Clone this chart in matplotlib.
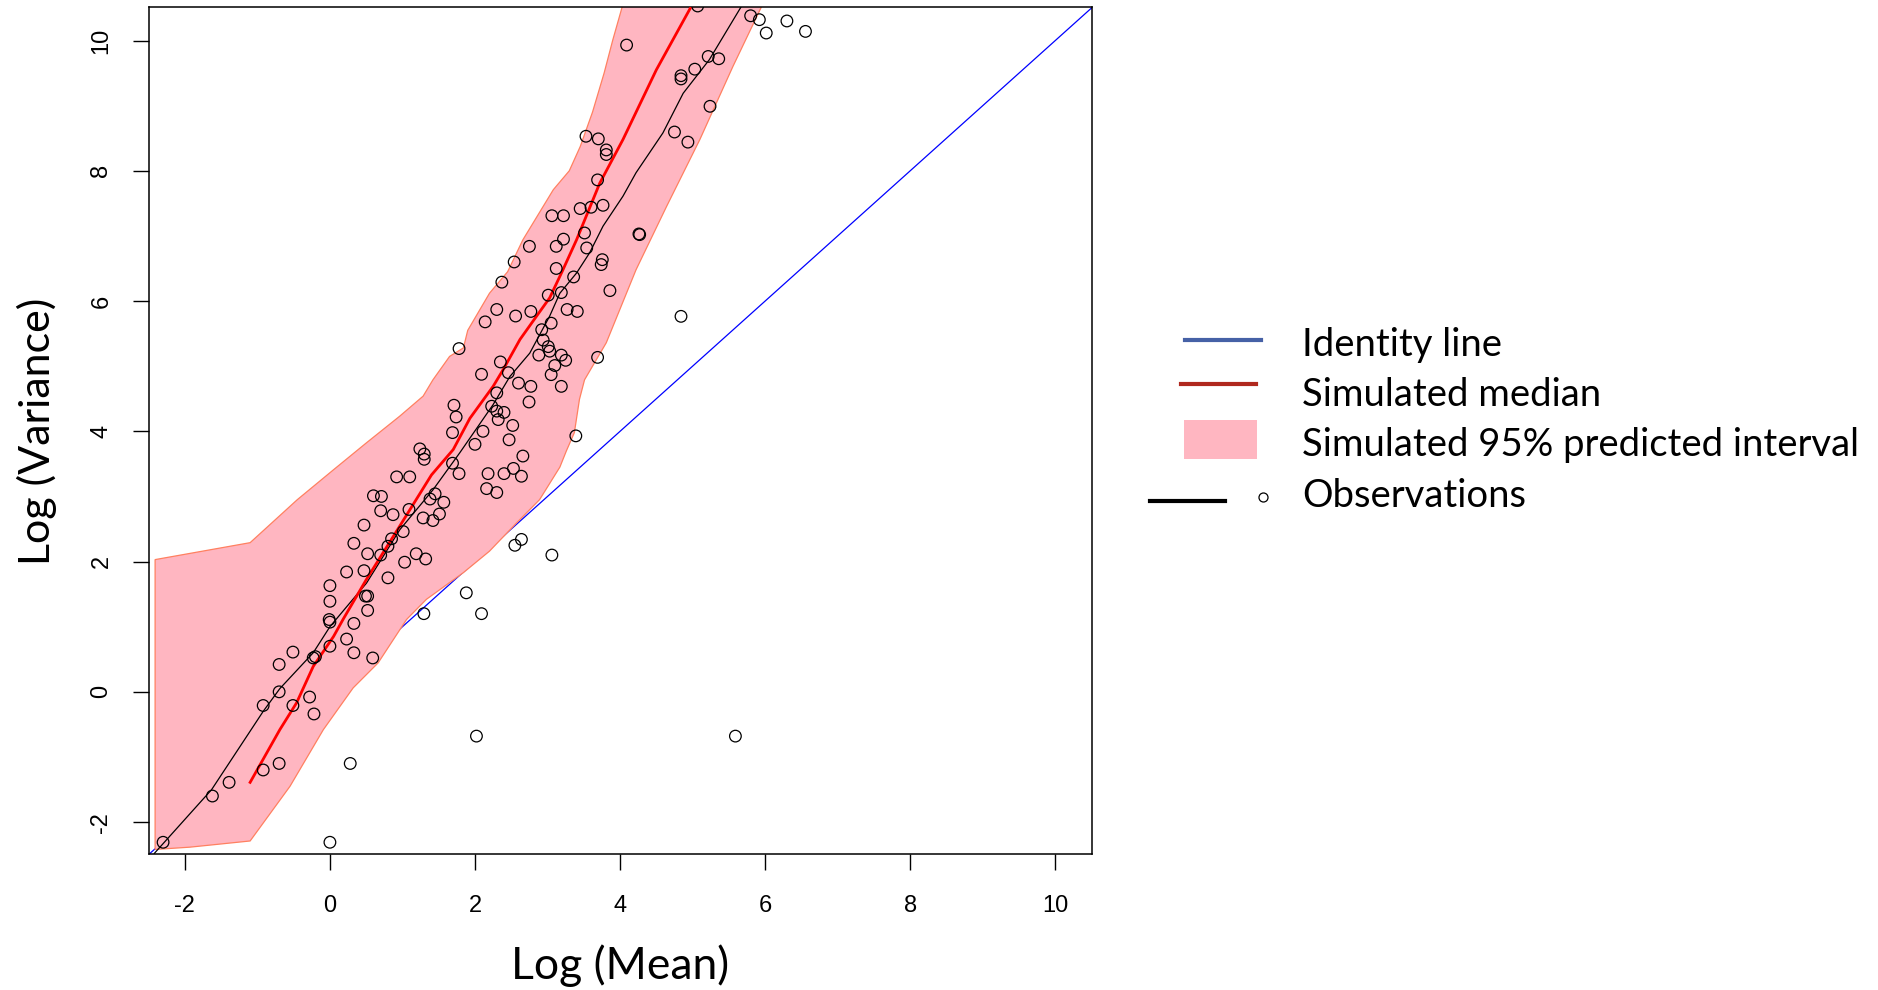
import numpy as np
import matplotlib
matplotlib.use("Agg")
import matplotlib.pyplot as plt
from matplotlib.lines import Line2D
from matplotlib.patches import Rectangle

# observed log(mean) / log(variance) pairs
obs_x = [-2.30, -1.62, -1.39, -0.92, -0.70, 0.00, 0.28, 2.02, -0.92, -0.70,
         -0.70, -0.51, -0.51, -0.28, -0.22, -0.20, -0.23, 0.00, 0.00, -0.01,
         0.00, 0.00, 0.23, 0.33, 0.33, 0.59, 0.23, 0.47, 0.49, 0.52,
         0.52, 0.80, 0.52, 0.33, 0.47, 0.70, 0.80, 0.85, 1.01, 1.03,
         1.19, 1.32, 0.87, 0.70, 0.60, 0.71, 0.92, 1.10, 1.09, 1.285,
         1.42, 1.51, 1.57, 1.38, 1.45, 1.24, 1.30, 1.30, 1.69, 1.78,
         1.69, 2.00, 2.11, 2.18, 2.16, 2.30, 2.40, 2.53, 2.64, 2.66,
         2.47, 2.52, 2.32, 3.39, 2.55, 2.64, 3.06, 1.88, 2.09, 1.295,
         3.53, 3.45, 3.06, 3.22, 3.51, 3.54, 3.22, 3.12, 2.75, 2.54,
         3.12, 2.37, 3.36, 3.19, 3.01, 3.27, 3.41, 2.30, 2.14, 2.56,
         2.77, 3.05, 2.92, 2.94, 3.01, 3.03, 2.88, 3.19, 3.25, 3.10,
         3.05, 3.19, 1.78, 2.35, 2.09, 2.46, 2.60, 2.77, 2.745, 2.30,
         1.71, 1.74, 2.23, 2.30, 2.40,
         5.07, 5.80, 5.92, 6.015, 6.30, 6.556, 4.09, 5.215, 5.36, 5.03,
         4.84, 4.84, 5.24, 4.75, 4.935, 3.70, 3.81, 3.81, 3.69, 3.60,
         3.765, 4.26, 4.27, 3.755, 3.74, 3.86, 4.84, 3.69, 5.59]
obs_y = [-2.31, -1.60, -1.39, -1.20, -1.10, -2.31, -1.10, -0.68, -0.21, 0.00,
         0.42, 0.61, -0.21, -0.08, -0.34, 0.54, 0.52, 0.70, 1.07, 1.11,
         1.39, 1.63, 0.81, 1.05, 0.60, 0.52, 1.84, 1.86, 1.47, 1.47,
         1.25, 1.75, 2.12, 2.28, 2.56, 2.10, 2.235, 2.35, 2.46, 1.99,
         2.12, 2.04, 2.72, 2.78, 3.01, 3.00, 3.30, 3.30, 2.80, 2.67,
         2.63, 2.73, 2.91, 2.96, 3.04, 3.73, 3.65, 3.57, 3.51, 3.35,
         3.98, 3.80, 4.00, 3.35, 3.12, 3.06, 3.35, 3.43, 3.31, 3.62,
         3.87, 4.09, 4.18, 3.93, 2.25, 2.34, 2.10, 1.52, 1.20, 1.20,
         8.53, 7.42, 7.31, 7.31, 7.045, 6.815, 6.95, 6.84, 6.84, 6.60,
         6.50, 6.29, 6.37, 6.13, 6.09, 5.87, 5.84, 5.87, 5.68, 5.77,
         5.84, 5.66, 5.56, 5.40, 5.30, 5.23, 5.17, 5.17, 5.09, 5.01,
         4.87, 4.69, 5.27, 5.065, 4.875, 4.90, 4.74, 4.69, 4.45, 4.59,
         4.40, 4.22, 4.385, 4.31, 4.29,
         10.53, 10.38, 10.32, 10.115, 10.30, 10.14, 9.93, 9.755, 9.72, 9.56,
         9.46, 9.41, 8.99, 8.595, 8.44, 8.49, 8.32, 8.25, 7.86, 7.44,
         7.47, 7.03, 7.02, 6.635, 6.56, 6.16, 5.765, 5.135, -0.68]

# smoothed curve through the observations
smooth_x = [-2.42, -1.63, -0.92, -0.69, -0.23, 0.00, 0.505, 0.964, 1.42,
            1.79, 2.25, 2.48, 2.755, 3.03, 3.17, 3.40, 3.58, 3.765, 4.04,
            4.22, 4.59, 4.87, 5.23, 5.67, 5.85]
smooth_y = [-2.48, -1.50, -0.30, 0.05, 0.60, 1.00, 1.67, 2.49, 3.10,
            3.67, 4.41, 4.84, 5.20, 5.77, 6.12, 6.43, 6.74, 7.15, 7.61,
            7.97, 8.58, 9.19, 9.705, 10.52, 10.80]

# simulated median
med_x = [-1.10, -0.69, -0.46, -0.23, 0.05, 0.18, 0.50, 0.96, 1.40, 1.70,
         1.93, 2.25, 2.39, 2.62, 2.85, 3.03, 3.20, 3.40, 3.72, 4.04,
         4.50, 4.98, 5.10]
med_y = [-1.39, -0.58, -0.17, 0.39, 0.85, 1.11, 1.72, 2.54, 3.33, 3.72,
         4.20, 4.69, 4.95, 5.41, 5.77, 6.05, 6.45, 6.94, 7.81, 8.48,
         9.55, 10.52, 10.80]

# simulated 95% prediction interval, upper and lower limits
upper_x = [-2.41, -1.10, -0.45, 0.05, 0.50, 0.96, 1.285, 1.42, 1.65, 1.84,
           1.90, 2.20, 2.45, 2.66, 3.08, 3.30, 3.45, 3.62, 3.78, 3.90,
           4.03, 4.10]
upper_y = [2.03, 2.29, 2.95, 3.41, 3.82, 4.23, 4.54, 4.79, 5.15, 5.28,
           5.55, 6.12, 6.45, 6.94, 7.71, 8.00, 8.37, 8.90, 9.50, 10.01,
           10.52, 10.80]
lower_x = [-2.41, -1.93, -1.10, -0.55, -0.09, 0.32, 0.665, 1.056, 1.33, 1.84,
           2.20, 2.57, 2.89, 3.17, 3.26, 3.37, 3.44, 3.51, 3.81, 4.22,
           4.64, 5.10, 5.555, 5.95, 6.05]
lower_y = [-2.42, -2.385, -2.29, -1.45, -0.58, 0.06, 0.445, 1.11, 1.42, 1.83,
           2.16, 2.59, 2.95, 3.45, 3.70, 3.98, 4.49, 4.79, 5.36, 6.48,
           7.45, 8.48, 9.60, 10.52, 10.80]

ticks = [-2, 0, 2, 4, 6, 8, 10]
lims = (-2.49, 10.51)

W, H = 1878, 990
fig = plt.figure(figsize=(W / 100, H / 100), dpi=100)
ax = fig.add_axes([149.3 / W, 1 - 854 / H, (1092.3 - 149.3) / W, (854 - 7.3) / H])

ax.axline((0, 0), slope=1, color="#0000FF", lw=0.9, zorder=1)

band_x = upper_x + lower_x[::-1]
band_y = upper_y + lower_y[::-1]
ax.fill(band_x, band_y, facecolor="#FFB6C1", edgecolor="#FF8060", lw=0.9, zorder=2)

ax.plot(smooth_x, smooth_y, color="black", lw=0.9, zorder=3)
ax.plot(med_x, med_y, color="#FF0000", lw=2.0, zorder=4)
ax.scatter(obs_x, obs_y, s=70, facecolors="none", edgecolors="black",
           linewidths=0.9, zorder=5)

ax.set_xlim(lims)
ax.set_ylim(lims)
ax.set_xticks(ticks)
ax.set_yticks(ticks)
ax.set_xticklabels([str(t) for t in ticks], family="Liberation Sans", fontsize=17)
ax.set_yticklabels([str(t) for t in ticks], family="Liberation Sans", fontsize=17,
                   rotation=90, va="center")
ax.tick_params(axis="both", length=11.5, width=1.0, direction="out")
ax.tick_params(axis="x", pad=18)
ax.tick_params(axis="y", pad=15)
for sp in ax.spines.values():
    sp.set_linewidth(1.1)

fig.text(620 / W, 1 - 979 / H, "Log (Mean)", family="Lato", fontsize=32,
         ha="center", va="baseline")
fig.text(37 / W, 1 - 431 / H, "Log (Variance)", family="Lato", fontsize=31,
         rotation=90, ha="center", va="center")

# legend drawn on an overlay in pixel units
lax = fig.add_axes([0, 0, 1, 1])
lax.set_xlim(0, W)
lax.set_ylim(H, 0)
lax.axis("off")
lax.add_line(Line2D([1185, 1261], [339.5, 339.5], color="#4661A6", lw=3))
lax.add_line(Line2D([1181, 1256], [384.3, 384.3], color="#B0281E", lw=3))
lax.add_patch(Rectangle((1183.5, 420), 73.5, 39.3, facecolor="#FFB6C1", edgecolor="none"))
lax.add_line(Line2D([1150, 1225], [500.7, 500.7], color="black", lw=3))
lax.plot([1263], [497], marker="o", ms=6.5, mfc="white", mec="black", mew=0.9)

legend_labels = ["Identity line", "Simulated median",
                 "Simulated 95% predicted interval", "Observations"]
for lab, base in zip(legend_labels, [356, 406, 456, 507]):
    lax.text(1302, base, lab, family="Lato", fontsize=27.5, ha="left", va="baseline")

fig.savefig("out.png", dpi=100)
